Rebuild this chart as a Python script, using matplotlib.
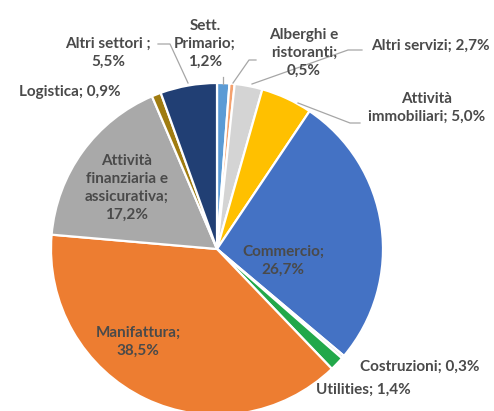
import matplotlib
matplotlib.use('Agg')
import matplotlib.pyplot as plt

# settori, valori in %
sectors = ['Sett.\nPrimario', 'Alberghi e\nristoranti', 'Altri servizi', 'Attività\nimmobiliari',
           'Commercio', 'Costruzioni', 'Utilities', 'Manifattura',
           'Attività\nfinanziaria e\nassicurativa', 'Logistica', 'Altri settori ']
values = [1.2, 0.5, 2.7, 5.0, 26.7, 0.3, 1.4, 38.5, 17.2, 0.9, 5.5]
# separator between name and value in the label ("; " on one line or ";\n")
seps = [';\n', ';\n', '; ', '; ', ';\n', '; ', '; ', ';\n', ';\n', '; ', ';\n']
colors = ['#5B9BD5', '#F4A16E', '#D4D4D4', '#FFC000', '#4472C4', '#E2E2E2',
          '#22A84A', '#ED7D31', '#A9A9A9', '#A07C10', '#213F74']

# label positions in pixel coords (y down)
label_pos = [(205, 44), (304, 53), (430, 46), (427, 108), (283, 261), (420, 367),
             (363, 390), (138, 342), (127, 188), (70, 92), (108, 53)]
leaders = {
    0: [(223, 77), (223, 84)],
    1: [(233, 83), (249, 60), (256, 60)],
    2: [(252, 84), (348, 50), (362, 50)],
    3: [(298, 103), (350, 123), (360, 123)],
    10: [(158, 44), (170, 44), (188, 83)],
}

W, H = 494, 411
fig = plt.figure(figsize=(W / 100, H / 100), dpi=100)
ax = fig.add_axes([0, 0, 1, 1])

ax.pie(values, colors=colors, startangle=270, counterclock=True,
       center=(217, 249), radius=166,
       wedgeprops=dict(edgecolor='white', linewidth=1.6))
ax.set_xlim(0, W)
ax.set_ylim(H, 0)
ax.set_aspect('equal')
ax.axis('off')

for i, pts in leaders.items():
    xs = [p[0] for p in pts]
    ys = [p[1] for p in pts]
    ax.plot(xs, ys, color='#A6A6A6', lw=0.9)

for i in range(len(values)):
    txt = sectors[i] + seps[i] + ('%.1f' % values[i]).replace('.', ',') + '%'
    ax.text(label_pos[i][0], label_pos[i][1], txt, ha='center', va='center',
            fontsize=11, fontweight='bold', family='Lato', color='#4A4A4A',
            linespacing=1.38)

fig.savefig('out.png', dpi=100)
